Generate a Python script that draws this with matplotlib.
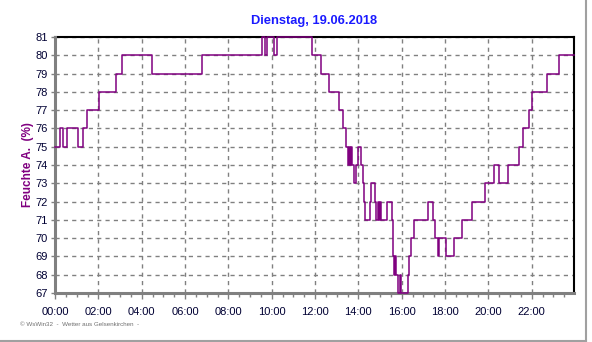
import matplotlib
matplotlib.use('Agg')
import matplotlib.pyplot as plt
from matplotlib.lines import Line2D
import numpy as np

# Zeitpunkte der Änderung (Stunden) und Feuchte-Werte (%)
stunden = [0.00, 0.23, 0.36, 0.55, 1.06, 1.31, 1.48, 2.05, 2.82, 3.08,
           4.47, 6.79, 9.56, 9.67, 9.76, 10.10, 10.24, 11.86, 12.28, 12.64,
           13.12, 13.30, 13.45, 13.50, 13.56, 13.62, 13.67, 13.72, 13.82, 13.89,
           13.98, 14.10, 14.20, 14.27, 14.31, 14.54, 14.60, 14.76, 14.83, 14.90,
           14.94, 15.00, 15.05, 15.30, 15.54, 15.58, 15.62, 15.65, 15.70, 15.75,
           15.83, 15.90, 15.96, 16.27, 16.33, 16.42, 16.57, 17.23, 17.45, 17.55,
           17.67, 17.72, 18.03, 18.40, 18.80, 19.24, 19.83, 20.24, 20.48, 20.89,
           21.41, 21.58, 21.86, 22.02, 22.72, 23.24, 23.95]
feuchte = [75, 76, 75, 76, 75, 76, 77, 78, 79, 80,
           79, 80, 81, 80, 81, 80, 81, 80, 79, 78,
           77, 76, 75, 74, 75, 74, 75, 74, 73, 74,
           75, 74, 73, 72, 71, 72, 73, 72, 71, 72,
           71, 72, 71, 72, 71, 70, 69, 68, 69, 68,
           67, 68, 67, 68, 69, 70, 71, 72, 71, 70,
           69, 70, 69, 70, 71, 72, 73, 74, 73, 74,
           75, 76, 77, 78, 79, 80, 80]

x_ticks = np.arange(0, 23, 2)
x_labels = ['%02d:00' % h for h in x_ticks]
y_ticks = np.arange(67, 82)

fig = plt.figure(figsize=(5.92, 3.42), dpi=100)
ax = fig.add_axes([55 / 592, 49 / 342, 519 / 592, 256 / 342])

ax.plot(stunden, feuchte, color='#800080', lw=1.1, drawstyle='steps-post', zorder=5,
        clip_on=False)

ax.set_xlim(0, 23.95)
ax.set_ylim(67, 81)
ax.set_xticks(x_ticks)
ax.set_xticklabels(x_labels)
ax.set_xticks(np.arange(0, 24, 0.5), minor=True)
ax.set_yticks(y_ticks)
ax.grid(True, color='#808080', linestyle=(0, (3, 3)), lw=1.0)

for s in ['left', 'bottom']:
    ax.spines[s].set_color('#808080')
    ax.spines[s].set_linewidth(2.2)
for s in ['top', 'right']:
    ax.spines[s].set_color('black')
    ax.spines[s].set_linewidth(1.5)
    ax.spines[s].set_zorder(2)

ax.tick_params(axis='y', direction='out', length=3, width=1, color='#808080',
               labelsize=8, labelcolor='#000033', pad=2)
ax.tick_params(axis='x', which='major', direction='out', length=4, width=1,
               color='#808080', labelsize=8, labelcolor='#000033', pad=6)
ax.tick_params(axis='x', which='minor', direction='out', length=3, width=1, color='#808080')
for lab in ax.get_xticklabels() + ax.get_yticklabels():
    lab.set_family('Liberation Sans')

ax.set_ylabel('Feuchte A.  (%)', color='#800080', fontsize=8.5, fontweight='bold',
              family='Liberation Sans', labelpad=4)
ax.yaxis.set_label_coords(-21 / 519, 0.5)
fig.text(314 / 592, 1 - 21 / 342, 'Dienstag, 19.06.2018', color='#1a1aff', fontsize=9.3,
         fontweight='bold', family='Liberation Sans', ha='center', va='center')
fig.text(20 / 592, 1 - 324 / 342, '© WsWin32  -  Wetter aus Gelsenkirchen  -', color='#707070',
         fontsize=4.5, family='Liberation Sans', ha='left', va='center')

# Rahmen rechts und unten
fig.add_artist(Line2D([586 / 592, 586 / 592], [1 / 342, 1], color='#a0a0a0', lw=1.5))
fig.add_artist(Line2D([0, 586 / 592], [1 / 342, 1 / 342], color='#a0a0a0', lw=1.5))

fig.savefig('out.png', dpi=100)
